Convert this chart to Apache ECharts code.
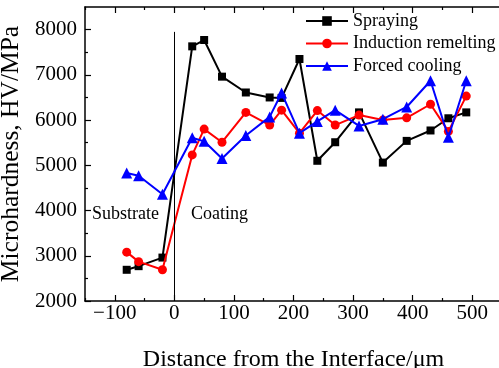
<!DOCTYPE html>
<html>
<head>
<meta charset="utf-8">
<script src="https://cdn.jsdelivr.net/npm/echarts@6/dist/echarts.min.js"></script>
<style>html,body{margin:0;padding:0;background:#fff;}#c{width:499px;height:368px;}</style>
</head>
<body>
<div id="c"></div>
<script>
const distances = [-80, -60, -20, 30, 50, 80, 120, 160, 180, 210, 240, 270, 310, 350, 390, 430, 460, 490];
const spraying = [2690, 2770, 2960, 7630, 7770, 6960, 6610, 6500, 6490, 7350, 5100, 5510, 6170, 5060, 5540, 5770, 6040, 6170];
const induction = [3080, 2870, 2690, 5230, 5800, 5510, 6170, 5890, 6220, 5710, 6210, 5890, 6110, 6000, 6050, 6350, 5750, 6530];
const forced = [4830, 4770, 4360, 5610, 5530, 5150, 5660, 6070, 6600, 5710, 5970, 6220, 5870, 6020, 6290, 6870, 5620, 6870];
const xMajorTicks = [-100, 0, 100, 200, 300, 400, 500];
const xMinorTicks = [-150, -50, 50, 150, 250, 350, 450, 550];
const yMajorTicks = [2000, 3000, 4000, 5000, 6000, 7000, 8000];
const yMinorTicks = [2500, 3500, 4500, 5500, 6500, 7500];
const interfaceLine = [[0, 2000], [0, 7950]];
const seriesNames = ['Spraying', 'Induction remelting', 'Forced cooling'];

const FONT = 'Liberation Serif';
const pair = (xs, ys) => xs.map((x, i) => [x, ys[i]]);

const baseX = {
  type: 'value', min: -150, max: 550, splitLine: { show: false },
  axisLine: { show: false, lineStyle: { color: '#000', width: 1.5 } },
  axisTick: { show: true, inside: true, length: 3, lineStyle: { color: '#000', width: 1.2 } },
  axisLabel: { show: false }
};
const baseY = {
  type: 'value', min: 2000, max: 8500, interval: 1000, splitLine: { show: false },
  axisLine: { show: false, onZero: false, lineStyle: { color: '#000', width: 1.5 } },
  axisTick: { show: true, inside: true, length: 3, lineStyle: { color: '#000', width: 1.2 } },
  axisLabel: { show: false }
};

const chart = echarts.init(document.getElementById('c'));
chart.setOption({
  animation: false,
  backgroundColor: '#fff',
  grid: { left: 85, top: 7, right: -3, bottom: 67, containLabel: false, outerBoundsMode: 'none' },
  legend: {
    data: seriesNames, orient: 'vertical', left: 300, top: 7,
    itemWidth: 42, itemHeight: 12, itemGap: 4.5,
    textStyle: { fontFamily: FONT, fontSize: 18, color: '#000' }
  },
  xAxis: [
    Object.assign({}, baseX, {
      position: 'bottom',
      axisLine: { show: true, onZero: false, lineStyle: { color: '#000', width: 1.5 } },
      axisTick: { show: true, inside: true, length: 6, customValues: xMajorTicks, lineStyle: { color: '#000', width: 1.2 } },
      axisLabel: { show: true, customValues: xMajorTicks, margin: 2, color: '#000', fontFamily: FONT, fontSize: 21,
        formatter: v => String(v).replace('-', '\u2212') },
      name: 'Distance from the Interface/\u03bcm', nameLocation: 'middle', nameGap: 47,
      nameTextStyle: { fontFamily: FONT, fontSize: 24, color: '#000' }
    }),
    Object.assign({}, baseX, {
      position: 'bottom',
      axisTick: { show: true, inside: true, length: 3, customValues: xMinorTicks, lineStyle: { color: '#000', width: 1.2 } }
    }),
    Object.assign({}, baseX, {
      position: 'top',
      axisLine: { show: true, onZero: false, lineStyle: { color: '#000', width: 1.5 } },
      axisTick: { show: true, inside: true, length: 6, customValues: xMajorTicks, lineStyle: { color: '#000', width: 1.2 } }
    }),
    Object.assign({}, baseX, {
      position: 'top',
      axisTick: { show: true, inside: true, length: 3, customValues: xMinorTicks, lineStyle: { color: '#000', width: 1.2 } }
    })
  ],
  yAxis: [
    Object.assign({}, baseY, {
      position: 'left',
      axisLine: { show: true, onZero: false, lineStyle: { color: '#000', width: 1.5 } },
      axisTick: { show: true, inside: true, length: 6, customValues: yMajorTicks, lineStyle: { color: '#000', width: 1.2 } },
      axisLabel: { show: true, customValues: yMajorTicks, margin: 8, color: '#000', fontFamily: FONT, fontSize: 21,
        formatter: v => String(v) },
      name: 'Microhardness, HV/MPa', nameLocation: 'middle', nameGap: 49,
      nameTextStyle: { fontFamily: FONT, fontSize: 25.5, color: '#000' }
    }),
    Object.assign({}, baseY, {
      position: 'left',
      axisTick: { show: true, inside: true, length: 3, customValues: yMinorTicks, lineStyle: { color: '#000', width: 1.2 } }
    })
  ],
  graphic: [
    { type: 'text', left: 92, top: 205, style: { text: 'Substrate', font: '18px "Liberation Serif"', fill: '#000' } },
    { type: 'text', left: 191, top: 205, style: { text: 'Coating', font: '18px "Liberation Serif"', fill: '#000' } }
  ],
  series: [
    {
      name: seriesNames[0], type: 'line', data: pair(distances, spraying),
      symbol: 'rect', symbolSize: 8, color: '#000',
      lineStyle: { color: '#000', width: 2 }, itemStyle: { color: '#000' }, z: 3,
      markLine: {
        silent: true, symbol: ['none', 'none'], label: { show: false },
        lineStyle: { color: '#000', width: 1, type: 'solid' },
        data: [[{ coord: interfaceLine[0] }, { coord: interfaceLine[1] }]]
      }
    },
    {
      name: seriesNames[1], type: 'line', data: pair(distances, induction),
      symbol: 'circle', symbolSize: 9, color: '#ff0000',
      lineStyle: { color: '#ff0000', width: 2 }, itemStyle: { color: '#ff0000' }, z: 4
    },
    {
      name: seriesNames[2], type: 'line', data: pair(distances, forced),
      symbol: 'triangle', symbolSize: 11, color: '#0000ff',
      lineStyle: { color: '#0000ff', width: 2 }, itemStyle: { color: '#0000ff' }, z: 5
    }
  ]
});
</script>
</body>
</html>
